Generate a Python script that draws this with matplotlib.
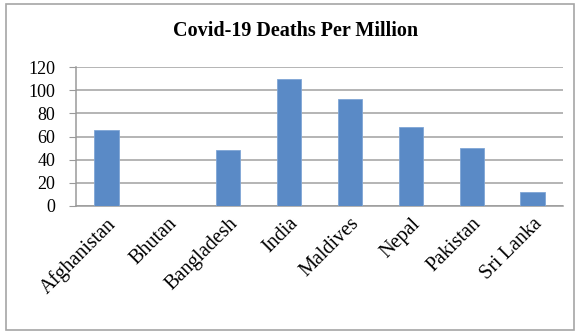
import matplotlib
matplotlib.use("Agg")
import matplotlib.pyplot as plt
from matplotlib.patches import Rectangle
from matplotlib.transforms import ScaledTranslation

countries = ["Afghanistan", "Bhutan", "Bangladesh", "India", "Maldives",
             "Nepal", "Pakistan", "Sri Lanka"]
deaths_per_million = [66, 0, 48, 110, 92, 68, 50, 12]
y_ticks = [0, 20, 40, 60, 80, 100, 120]
title = "Covid-19 Deaths Per Million"

plt.rcParams['font.family'] = ['Liberation Serif', 'DejaVu Serif']

W, H = 583, 334
fig = plt.figure(figsize=(W / 100, H / 100), dpi=100)
fig.patch.set_facecolor("white")

# outer chart border
fig.add_artist(Rectangle((6 / W, 1 - 330 / H), (574 - 6) / W, (330 - 4) / H,
                         transform=fig.transFigure, fill=False,
                         edgecolor="#a6a6a6", linewidth=1.2))

ax = fig.add_axes([76 / W, 1 - 206 / H, (563 - 76) / W, (206 - 67) / H])
x = range(len(countries))
ax.bar(x, deaths_per_million, width=0.4, color="#5a8ac6",
       edgecolor="#7fa6d6", linewidth=0.6, zorder=3)

ax.set_xlim(-0.5, len(countries) - 0.5)
ax.set_ylim(0, 120)
ax.set_yticks(y_ticks)
ax.set_yticklabels([str(v) for v in y_ticks], fontsize=13)
ax.set_xticks(list(x))
ax.set_xticklabels(countries, rotation=45, ha="right", va="top",
                   rotation_mode="anchor", fontsize=14.5)
offset = ScaledTranslation(7 / 100, 0, fig.dpi_scale_trans)
for lbl in ax.get_xticklabels():
    lbl.set_transform(lbl.get_transform() + offset)

ax.yaxis.grid(True, color="#a0a0a0", linewidth=1.1, zorder=0)
ax.set_axisbelow(True)
for side in ["top", "right"]:
    ax.spines[side].set_visible(False)
ax.spines["left"].set_color("#9a9a9a")
ax.spines["bottom"].set_color("#9a9a9a")
ax.spines["left"].set_linewidth(1.1)
ax.spines["bottom"].set_linewidth(1.1)
ax.tick_params(axis="y", length=5, color="#9a9a9a", pad=10)
ax.tick_params(axis="x", length=0, pad=6)

fig.text(296 / W, 1 - 31 / H, title, ha="center", va="center",
         fontsize=14.5, fontweight="bold")

fig.savefig("out.png", dpi=100)
